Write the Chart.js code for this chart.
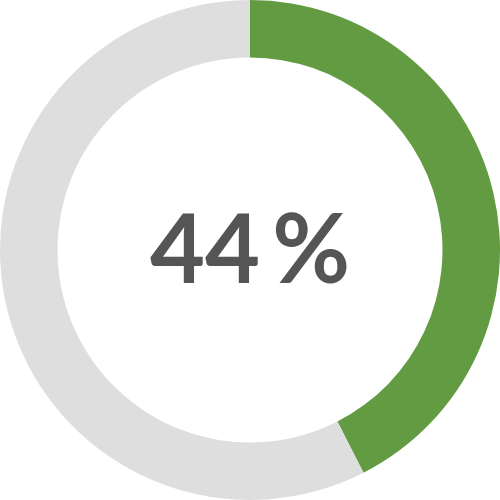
<!DOCTYPE html>
<html>
<head>
<meta charset="utf-8">
<script src="https://cdn.jsdelivr.net/npm/chart.js"></script>
<style>
  body { margin: 0; background: #fff; }
  #wrap { width: 500px; height: 500px; }
</style>
</head>
<body>
<div id="wrap"><canvas id="myChart"></canvas></div>
<script>
const labels = ['Done', 'Remaining'];
const values = [42.5, 57.5];
const colors = ['#629b41', '#dedede'];
const centerNumber = '44';
const centerUnit = '%';

// draws "44 %" in the hole, number and sign a bit closer than a normal space
const centerText = {
    id: 'centerText',
    afterDraw(chart) {
        const ctx = chart.ctx;
        const meta = chart.getDatasetMeta(0).data[0];
        ctx.save();
        ctx.font = 'bold 95px Lato, "DejaVu Sans", sans-serif';
        ctx.fillStyle = '#555555';
        ctx.textBaseline = 'alphabetic';
        const gap = 12;
        const w1 = ctx.measureText(centerNumber).width;
        const w2 = ctx.measureText(centerUnit).width;
        const left = meta.x - (w1 + gap + w2) / 2;
        const base = meta.y + 33;
        ctx.textAlign = 'left';
        ctx.fillText(centerNumber, left, base);
        ctx.fillText(centerUnit, left + w1 + gap, base);
        ctx.restore();
    }
};

const ctx = document.getElementById('myChart').getContext('2d');
const myChart = new Chart(ctx, {
    type: 'doughnut',
    data: {
        labels: labels,
        datasets: [{
            data: values,
            backgroundColor: colors,
            borderWidth: 0
        }]
    },
    options: {
        responsive: true,
        maintainAspectRatio: false,
        animation: false,
        cutout: '77%',
        layout: { padding: 0 },
        plugins: {
            legend: { display: false },
            tooltip: { enabled: false }
        }
    },
    plugins: [centerText]
});
</script>
</body>
</html>
